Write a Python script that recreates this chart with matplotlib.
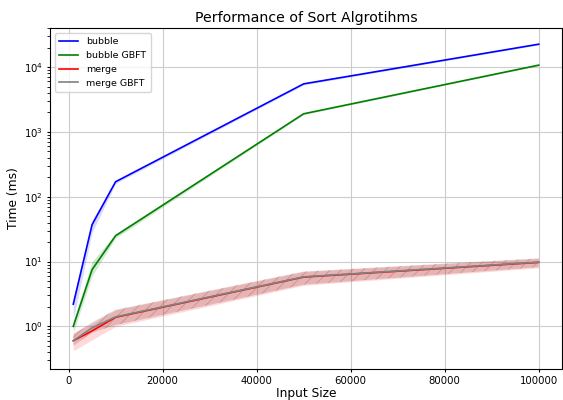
import matplotlib
matplotlib.use("Agg")
import matplotlib.pyplot as plt
import numpy as np

plt.rcParams['hatch.linewidth'] = 0.6

sizes = [1000, 5000, 10000, 50000, 100000]
bubble = [2.2, 37, 170, 5500, 22500]
bubble_lo = [1.3, 28, 160, 5300, 22000]
bubble_hi = [2.7, 44, 180, 5700, 23000]
bubble_gbft = [1.0, 7.5, 25, 1900, 10700]
bubble_gbft_lo = [0.8, 6.0, 23, 1850, 10500]
bubble_gbft_hi = [1.2, 10.0, 27, 1950, 10900]
merge = [0.6, 0.85, 1.38, 5.75, 9.7]
merge_lo = [0.42, 0.62, 1.0, 4.3, 8.0]
merge_hi = [0.8, 1.1, 1.8, 7.0, 11.2]
merge_gbft = [0.6, 0.95, 1.4, 5.8, 9.8]
merge_gbft_lo = [0.5, 0.8, 1.05, 4.4, 8.2]
merge_gbft_hi = [0.75, 1.15, 1.8, 7.0, 11.2]

fig = plt.figure(figsize=(5.63, 4.0), dpi=100)
ax = fig.add_axes([50/563, 31/400, 512/563, 341/400])

lw = 1.2
ax.plot(sizes, bubble, color='blue', label='bubble', lw=lw, zorder=3)
ax.fill_between(sizes, bubble_lo, bubble_hi, color='blue', alpha=0.15, lw=0)
ax.plot(sizes, bubble_gbft, color='green', label='bubble GBFT', lw=lw, zorder=3)
ax.fill_between(sizes, bubble_gbft_lo, bubble_gbft_hi, color='green', alpha=0.18, lw=0)
ax.plot(sizes, merge, color='red', label='merge', lw=lw, zorder=3)
ax.fill_between(sizes, merge_lo, merge_hi, color='red', alpha=0.15, lw=0)
ax.plot(sizes, merge_gbft, color='gray', label='merge GBFT', lw=lw, zorder=3)
ax.fill_between(sizes, merge_gbft_lo, merge_gbft_hi, facecolor=(0.6, 0.3, 0.3, 0.25),
                edgecolor=(0.75, 0.45, 0.45, 0.6), hatch='///', lw=0)

ax.set_yscale('log')
ax.set_ylim(0.22, 40000)
ax.set_axisbelow(True)
ax.grid(True, which='major', color='#cccccc', lw=0.8)
ax.set_title('Performance of Sort Algrotihms', fontsize=10.2, pad=4)
ax.set_xlabel('Input Size', fontsize=8.8, labelpad=1)
ax.set_ylabel('Time (ms)', fontsize=8.8, labelpad=3)
ax.tick_params(labelsize=7.3, length=2.5, pad=2.5)
ax.legend(loc='upper left', fontsize=6.8, handlelength=2.0, borderpad=0.5)

fig.savefig('out.png', dpi=100)
